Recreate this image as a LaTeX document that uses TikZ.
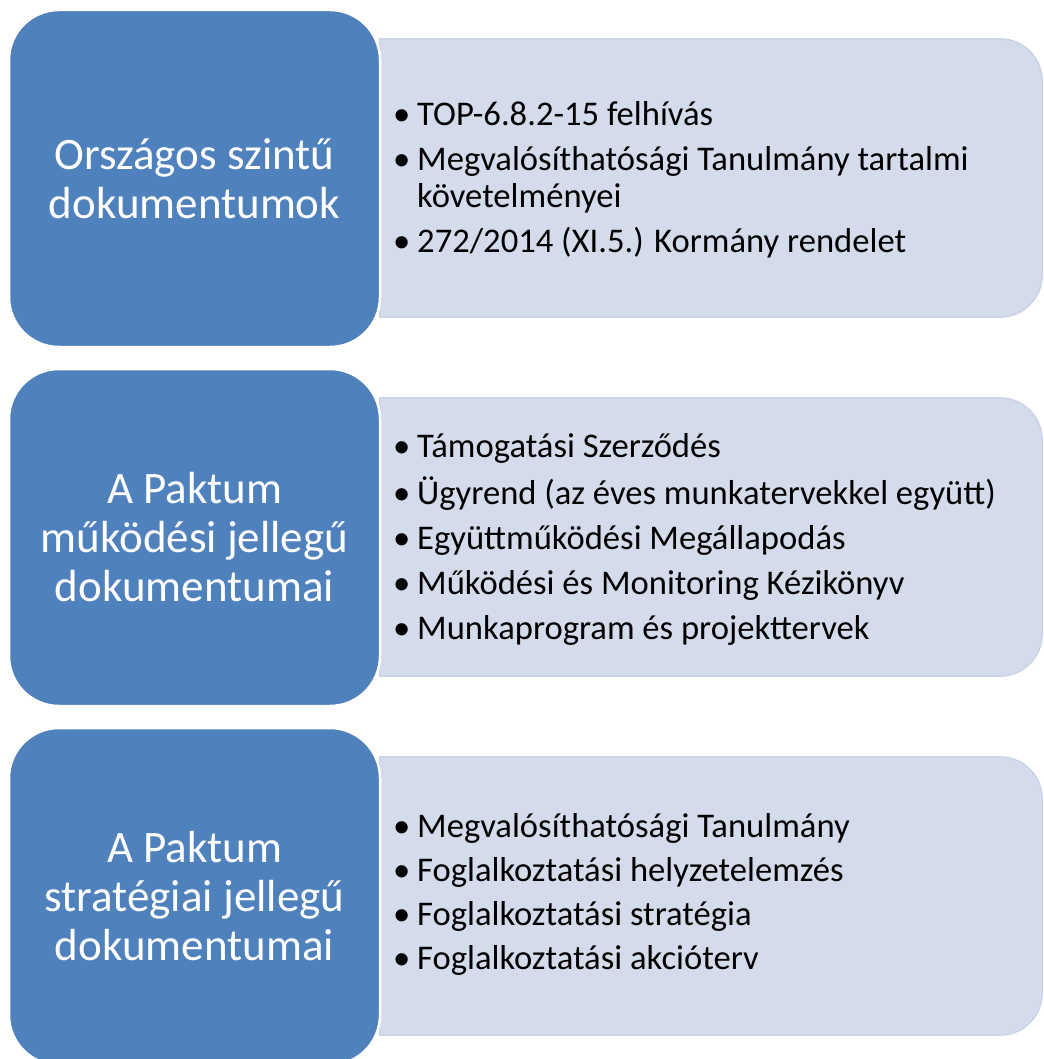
\documentclass[tikz,border=0pt]{standalone}
\usepackage{fontspec}
\setmainfont{Carlito}
\usepackage{xcolor}
\usepackage{tikz}
\usetikzlibrary{shapes,positioning}
\definecolor{blkblue}{HTML}{4F81BD}
\definecolor{pnlblue}{HTML}{D4DBEA}
\definecolor{pnlline}{HTML}{C9D1E4}
\tikzset{blk/.style={rectangle,rounded corners=50pt,fill=blkblue,draw=white,line width=2.5pt,minimum width=371pt,minimum height=337pt,text=white,align=center,font=\fontsize{45}{49}\selectfont}}
\tikzset{pnl/.style={rectangle,minimum width=662pt,minimum height=278pt,inner sep=0pt}}
\tikzset{pnlfill/.style={fill=pnlblue,draw=pnlline,line width=1.2pt}}
\tikzset{items/.style={inner sep=0pt,text=black,font=\fontsize{34.6}{37}\selectfont}}
\newcommand{\itm}{\textbullet}

\begin{document}
\begin{tikzpicture}[x=1pt,y=-1pt]
        \clip (0,0) rectangle (1043,1059);

        \node[pnl] (p1)at (711,178) {};
        \node[pnl] (p2)at (711,537) {};
        \node[pnl] (p3)at (711,896) {};

        \draw [pnlfill] (p1.north) [rounded corners=42pt] -- (p1.north east) -- (p1.south east) -- (p1.south) [sharp corners] -- (p1.south west) -- (p1.north west) -- cycle;
        \draw [pnlfill] (p2.north) [rounded corners=42pt] -- (p2.north east) -- (p2.south east) -- (p2.south) [sharp corners] -- (p2.south west) -- (p2.north west) -- cycle;
        \draw [pnlfill] (p3.north) [rounded corners=42pt] -- (p3.north east) -- (p3.south east) -- (p3.south) [sharp corners] -- (p3.south west) -- (p3.north west) -- cycle;

        \node[blk] (b1)at (194.5,178.5) {Országos szintű\\dokumentumok};
        \node[blk] (b2)at (194.5,537.5) {A Paktum\\működési jellegű\\dokumentumai};
        \node[blk] (b3)at (194.5,896.5) {A Paktum\\stratégiai jellegű\\dokumentumai};

        \node[items,right=13pt of p1.west,yshift=-4pt] (t1) {\begin{tabular}{@{}l@{\hspace{7pt}}l@{}}
            \itm & TOP-6.8.2-15 felhívás\\[8pt]
            \itm & Megvalósíthatósági Tanulmány tartalmi\\
                 & követelményei\\[8pt]
            \itm & 272/2014 (XI.5.) Kormány rendelet
        \end{tabular}};
        \node[items,right=13pt of p2.west,yshift=-4pt] (t2) {\begin{tabular}{@{}l@{\hspace{7pt}}l@{}}
            \itm & Támogatási Szerződés\\[8pt]
            \itm & Ügyrend (az éves munkatervekkel együtt)\\[8pt]
            \itm & Együttműködési Megállapodás\\[8pt]
            \itm & Működési és Monitoring Kézikönyv\\[8pt]
            \itm & Munkaprogram és projekttervek
        \end{tabular}};
        \node[items,right=13pt of p3.west] (t3) {\begin{tabular}{@{}l@{\hspace{7pt}}l@{}}
            \itm & Megvalósíthatósági Tanulmány\\[7pt]
            \itm & Foglalkoztatási helyzetelemzés\\[7pt]
            \itm & Foglalkoztatási stratégia\\[7pt]
            \itm & Foglalkoztatási akcióterv
        \end{tabular}};
    \end{tikzpicture}
\end{document}
